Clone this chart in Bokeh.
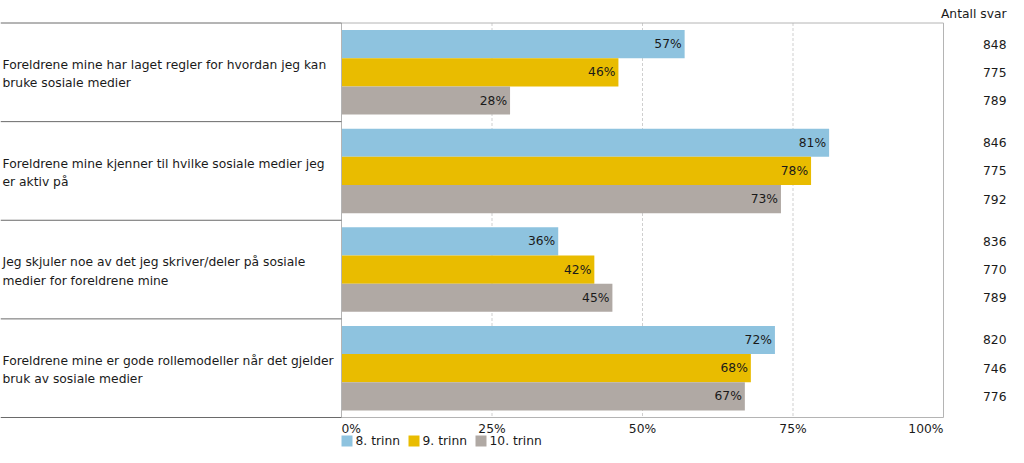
from bokeh.plotting import figure
from bokeh.models import Range1d
from bokeh.core.properties import value
from bokeh.embed import file_html
from bokeh.resources import INLINE

# ---------------- data ----------------
categories = [
    "Foreldrene mine har laget regler for hvordan jeg kan\nbruke sosiale medier",
    "Foreldrene mine kjenner til hvilke sosiale medier jeg\ner aktiv på",
    "Jeg skjuler noe av det jeg skriver/deler på sosiale\nmedier for foreldrene mine",
    "Foreldrene mine er gode rollemodeller når det gjelder\nbruk av sosiale medier",
]
series_names = ["8. trinn", "9. trinn", "10. trinn"]
trinn8 = [57, 81, 36, 72]
trinn9 = [46, 78, 42, 68]
trinn10 = [28, 73, 45, 67]
antall8 = [848, 846, 836, 820]
antall9 = [775, 775, 770, 746]
antall10 = [789, 792, 789, 776]
ticks = [0, 25, 50, 75, 100]
tick_labels = ["0%", "25%", "50%", "75%", "100%"]
antall_title = "Antall svar"

series_values = [trinn8, trinn9, trinn10]
series_counts = [antall8, antall9, antall10]
colors = ["#8EC3DF", "#E9BC00", "#B0A9A4"]

# ---------------- layout (canvas pixels) ----------------
W, H = 1008, 447
PLOT_L, PLOT_R = 341, 943
PX_PER = (PLOT_R - PLOT_L) / 100.0
TOP, BOTTOM = 22.5, 417.0
PITCH = (BOTTOM - TOP) / len(categories)
BAR_H = 28.2
PAD = (PITCH - 3 * BAR_H) / 2
RIGHT_X = 1006

def xd(px):
    return (px - PLOT_L) / PX_PER

FONT = value("DejaVu Sans")
FS = "12.3px"
TXT = "#1a1a1a"

p = figure(width=W, height=H, output_backend="svg", toolbar_location=None,
           x_axis_type=None, y_axis_type=None, min_border=0,
           x_range=Range1d(xd(0), xd(W)),
           y_range=Range1d(H, 0),
           outline_line_color=None, background_fill_color="white",
           border_fill_color="white")
p.xgrid.visible = False
p.ygrid.visible = False

# dashed grid lines
for t in ticks[1:-1]:
    p.segment(x0=[t], y0=[TOP], x1=[t], y1=[BOTTOM], line_color="#cfcfcf",
              line_width=1, line_dash="3 2")

# bars
for s, vals in enumerate(series_values):
    ys = [TOP + g * PITCH + PAD + (s + 0.5) * BAR_H for g in range(len(categories))]
    p.hbar(y=ys, left=0, right=vals, height=BAR_H, fill_color=colors[s], line_color=None)
    p.text(x=vals, y=ys, text=[f"{v}%" for v in vals], x_offset=-3,
           text_align="right", text_baseline="middle", text_font=FONT,
           text_font_size=FS, text_color=TXT)
    p.text(x=[xd(RIGHT_X)] * len(ys), y=ys, text=[str(c) for c in series_counts[s]],
           text_align="right", text_baseline="middle", text_font=FONT,
           text_font_size=FS, text_color=TXT)

# plot frame
p.quad(left=[0], right=[100], top=[TOP], bottom=[BOTTOM], fill_color=None,
       line_color="#b4b4b4", line_width=1)

# left category boxes
seps = [TOP + g * PITCH for g in range(len(categories) + 1)]
p.segment(x0=[xd(0)] * len(seps), y0=seps, x1=[0] * len(seps), y1=seps,
          line_color="#6a6a6a", line_width=1)
p.text(x=[xd(2)] * len(categories),
       y=[TOP + (g + 0.5) * PITCH + 2 for g in range(len(categories))],
       text=categories, text_align="left", text_baseline="middle",
       text_font=FONT, text_font_size=FS, text_color=TXT, text_line_height=1.3)

# header for counts
p.text(x=[xd(RIGHT_X)], y=[13], text=[antall_title], text_align="right",
       text_baseline="middle", text_font=FONT, text_font_size=FS, text_color=TXT)

# x tick labels
TICK_Y = 428.5
p.text(x=ticks[:1], y=[TICK_Y], text=tick_labels[:1], text_align="left",
       text_baseline="middle", text_font=FONT, text_font_size=FS, text_color=TXT)
p.text(x=ticks[1:-1], y=[TICK_Y] * 3, text=tick_labels[1:-1], text_align="center",
       text_baseline="middle", text_font=FONT, text_font_size=FS, text_color=TXT)
p.text(x=ticks[-1:], y=[TICK_Y], text=tick_labels[-1:], text_align="right",
       text_baseline="middle", text_font=FONT, text_font_size=FS, text_color=TXT)

# legend
LEG_Y = 440.5
sq_x = [346.5, 413.5, 480.5]
tx_x = [355, 422, 489]
p.scatter(x=[xd(v) for v in sq_x], y=[LEG_Y] * 3, marker="square", size=11,
          fill_color=colors, line_color=None)
p.text(x=[xd(v) for v in tx_x], y=[LEG_Y] * 3, text=series_names, text_align="left",
       text_baseline="middle", text_font=FONT, text_font_size=FS, text_color=TXT)

open("out.html", "w").write(file_html(p, INLINE))
